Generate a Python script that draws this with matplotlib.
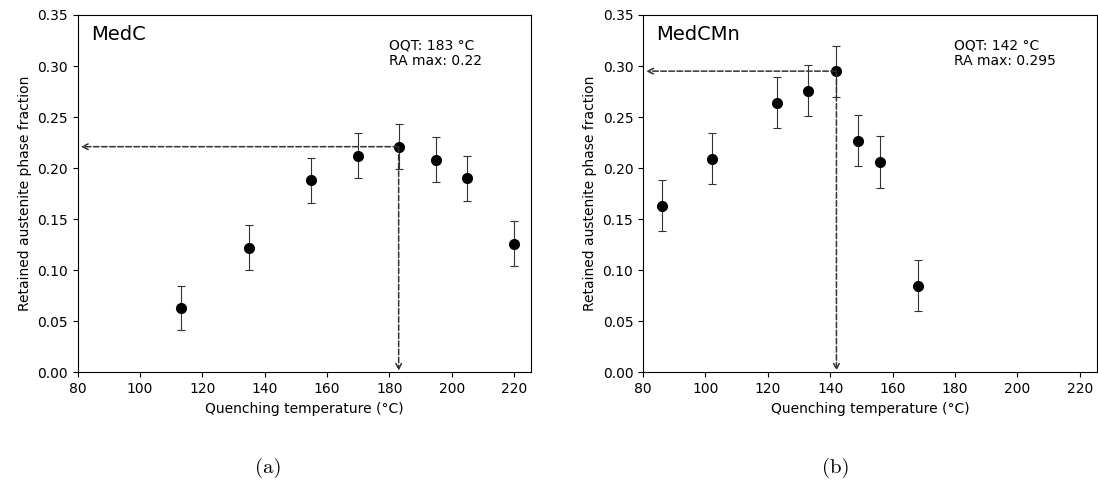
import matplotlib
matplotlib.use("Agg")
import matplotlib.pyplot as plt

# Panel (a): MedC
medc_temp = [113, 135, 155, 170, 183, 195, 205, 220]
medc_ra = [0.063, 0.122, 0.188, 0.212, 0.221, 0.208, 0.190, 0.126]
medc_err = [0.022, 0.022, 0.022, 0.022, 0.022, 0.022, 0.022, 0.022]
medc_oqt = 183
medc_max = 0.221

# Panel (b): MedCMn
medcmn_temp = [86, 102, 123, 133, 142, 149, 156, 168]
medcmn_ra = [0.163, 0.209, 0.264, 0.276, 0.295, 0.227, 0.206, 0.085]
medcmn_err = [0.025, 0.025, 0.025, 0.025, 0.025, 0.025, 0.025, 0.025]
medcmn_oqt = 142
medcmn_max = 0.295

fig = plt.figure(figsize=(10.98, 4.82), dpi=100)
ax1 = fig.add_axes([0.0708, 0.2276, 0.4126, 0.7413])
ax2 = fig.add_axes([0.5856, 0.2276, 0.4132, 0.7413])

panels = [
    (ax1, medc_temp, medc_ra, medc_err, medc_oqt, medc_max, "MedC",
     "OQT: 183 °C", "RA max: 0.22", "(a)", 268),
    (ax2, medcmn_temp, medcmn_ra, medcmn_err, medcmn_oqt, medcmn_max, "MedCMn",
     "OQT: 142 °C", "RA max: 0.295", "(b)", 836),
]

for ax, t, ra, err, oqt, mx, name, l1, l2, cap, capx in panels:
    ax.errorbar(t, ra, yerr=err, fmt='o', color='black', markersize=7,
                ecolor='#333333', elinewidth=0.8, capsize=3, capthick=0.8)
    ax.annotate('', xy=(81, mx), xytext=(oqt, mx),
                arrowprops=dict(arrowstyle='->', linestyle='--', color='#333333', lw=1.1,
                                shrinkA=0, shrinkB=0))
    ax.annotate('', xy=(oqt, 0.0015), xytext=(oqt, mx),
                arrowprops=dict(arrowstyle='->', linestyle='--', color='#333333', lw=1.1,
                                shrinkA=0, shrinkB=0))
    ax.set_xlim(80, 225.4)
    ax.set_ylim(0, 0.35)
    ax.set_xticks([80, 100, 120, 140, 160, 180, 200, 220])
    ax.set_yticks([0.0, 0.05, 0.10, 0.15, 0.20, 0.25, 0.30, 0.35])
    ax.set_yticklabels(["0.00", "0.05", "0.10", "0.15", "0.20", "0.25", "0.30", "0.35"])
    ax.set_xlabel("Quenching temperature (°C)")
    ax.set_ylabel("Retained austenite phase fraction")
    ax.text(0.03, 0.944, name, transform=ax.transAxes, fontsize=14, va='center', ha='left')
    ax.text(0.686, 0.916, l1, transform=ax.transAxes, fontsize=10, va='center', ha='left')
    ax.text(0.686, 0.872, l2, transform=ax.transAxes, fontsize=10, va='center', ha='left')
    fig.text(capx / 1098, 1 - 468 / 482, cap, fontsize=15, family='cmr10',
             ha='center', va='center')

fig.savefig("out.png", dpi=100)
